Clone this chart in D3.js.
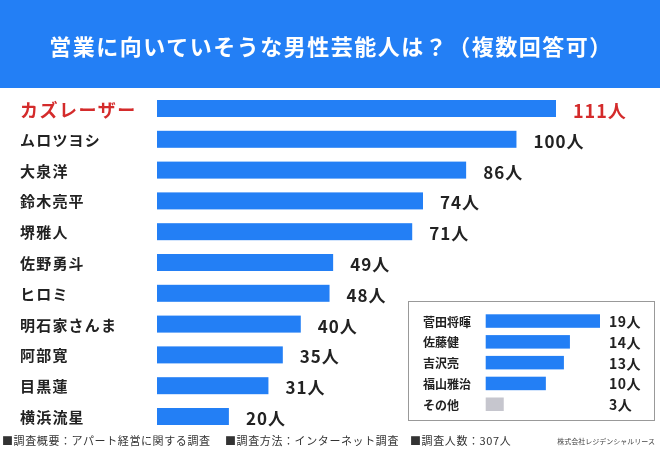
<!DOCTYPE html>
<head>
  <meta charset="utf-8">
  <script src="https://d3js.org/d3.v7.min.js"></script>
  <style>
    body {
      margin:0;position:fixed;top:0;right:0;bottom:0;left:0;
      font-family: "Noto Sans CJK JP", sans-serif;
      background-color: white;
    }
    .label { font-weight: 700; fill: #222; }
    .value { font-weight: 700; fill: #222; }
    .foot { fill: #333; font-size: 11px; letter-spacing: 0.6px; }
  </style>
</head>

<body>
  <script>
    // main ranking
    var names = ["カズレーザー", "ムロツヨシ", "大泉洋", "鈴木亮平", "堺雅人", "佐野勇斗",
                 "ヒロミ", "明石家さんま", "阿部寛", "目黒蓮", "横浜流星"];
    var values = [111, 100, 86, 74, 71, 49, 48, 40, 35, 31, 20];

    // inset box: the rest
    var otherNames = ["菅田将暉", "佐藤健", "吉沢亮", "福山雅治", "その他"];
    var otherValues = [19, 14, 13, 10, 3];

    var title = "営業に向いていそうな男性芸能人は？（複数回答可）";
    var footTexts = ["■調査概要：アパート経営に関する調査", "■調査方法：インターネット調査", "■調査人数：307人"];
    var credit = "株式会社レジデンシャルリース";

    var blue = "#237ff5", red = "#d42b2b";

    var svg = d3.select("body").append("svg")
      .attr("width", 660)
      .attr("height", 450)

    // title band
    svg.append("rect")
      .attr("x", 0).attr("y", 0)
      .attr("width", 660).attr("height", 88)
      .style("fill", blue)

    svg.append("text")
      .attr("x", 331)
      .attr("y", 45)
      .attr("text-anchor", "middle")
      .attr("dominant-baseline", "central")
      .style("fill", "white")
      .style("font-size", "22px")
      .style("font-weight", 700)
      .style("letter-spacing", "1.5px")
      .text(title)

    var x = d3.scaleLinear()
      .domain([0, 111])
      .range([157, 556])

    var y = d3.scaleBand()
      .domain(names)
      .range([100, 425])
      .paddingInner(0.448)
      .paddingOuter(0)

    svg.selectAll(".bar").data(values).enter()
      .append("rect")
      .attr("class", "bar")
      .attr("x", x(0))
      .attr("y", function(d, i) {return y(names[i])})
      .attr("width", function(d) {return x(d) - x(0)})
      .attr("height", y.bandwidth())
      .style("fill", blue)

    svg.selectAll(".label").data(names).enter()
      .append("text")
      .attr("class", "label")
      .attr("x", 20)
      .attr("y", function(d) {return y(d) + y.bandwidth() / 2})
      .attr("dominant-baseline", "central")
      .style("font-size", function(d, i) {return i === 0 ? "18px" : "15px"})
      .style("letter-spacing", function(d, i) {return i === 0 ? "1.5px" : "1.2px"})
      .style("fill", function(d, i) {return i === 0 ? red : "#222"})
      .text(function(d) {return d})

    svg.selectAll(".value").data(values).enter()
      .append("text")
      .attr("class", "value")
      .attr("x", function(d) {return x(d) + 17})
      .attr("y", function(d, i) {return y(names[i]) + y.bandwidth() / 2 + 1})
      .attr("dominant-baseline", "central")
      .style("font-size", function(d, i) {return i === 0 ? "18px" : "17px"})
      .style("letter-spacing", "1px")
      .style("fill", function(d, i) {return i === 0 ? red : "#222"})
      .text(function(d) {return d + "人"})

    // inset box
    svg.append("rect")
      .attr("x", 408.5).attr("y", 301.5)
      .attr("width", 246).attr("height", 119)
      .style("fill", "white")
      .style("stroke", "#999")
      .style("stroke-width", 1)

    var x2 = d3.scaleLinear()
      .domain([0, 19])
      .range([485.7, 600])

    var y2 = d3.scaleBand()
      .domain(otherNames)
      .range([314.3, 411])
      .paddingInner(0.351)
      .paddingOuter(0)

    svg.selectAll(".bar2").data(otherValues).enter()
      .append("rect")
      .attr("class", "bar2")
      .attr("x", x2(0))
      .attr("y", function(d, i) {return y2(otherNames[i])})
      .attr("width", function(d) {return x2(d) - x2(0)})
      .attr("height", y2.bandwidth())
      .style("fill", function(d, i) {return i === otherNames.length - 1 ? "#c6c6ce" : blue})

    svg.selectAll(".label2").data(otherNames).enter()
      .append("text")
      .attr("class", "label")
      .attr("x", 423)
      .attr("y", function(d) {return y2(d) + y2.bandwidth() / 2})
      .attr("dominant-baseline", "central")
      .style("font-size", "12px")
      .text(function(d) {return d})

    svg.selectAll(".value2").data(otherValues).enter()
      .append("text")
      .attr("class", "value")
      .attr("x", 609)
      .attr("y", function(d, i) {return y2(otherNames[i]) + y2.bandwidth() / 2})
      .attr("dominant-baseline", "central")
      .style("font-size", "14px")
      .style("letter-spacing", "0.5px")
      .text(function(d) {return d + "人"})

    // footer
    var footX = [2, 225, 410];
    svg.selectAll(".foot").data(footTexts).enter()
      .append("text")
      .attr("class", "foot")
      .attr("x", function(d, i) {return footX[i]})
      .attr("y", 440)
      .attr("dominant-baseline", "central")
      .text(function(d) {return d})

    svg.append("text")
      .attr("x", 655)
      .attr("y", 441)
      .attr("text-anchor", "end")
      .attr("dominant-baseline", "central")
      .style("font-size", "7px")
      .style("fill", "#444")
      .text(credit)
  </script>
</body>
